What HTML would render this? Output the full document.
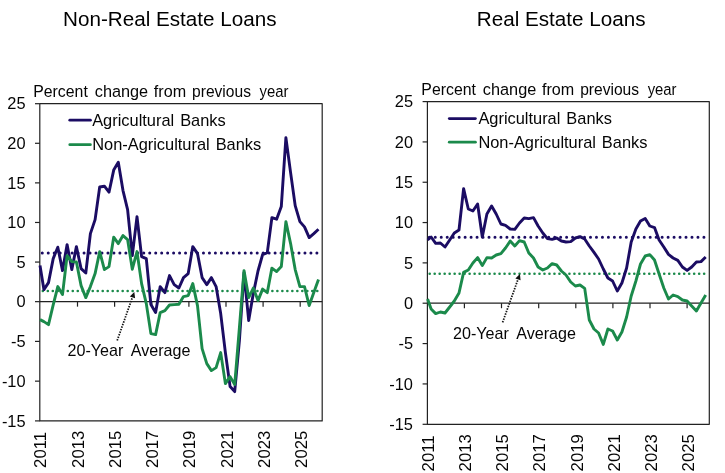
<!DOCTYPE html>
<html><head><meta charset="utf-8"><title>Loan growth charts</title>
<style>
html,body{margin:0;padding:0;background:#fff;}
body{width:725px;height:473px;overflow:hidden;font-family:"Liberation Sans",sans-serif;}
svg{display:block;will-change:transform}
.t{font-family:"Liberation Sans",sans-serif;font-size:16.4px;fill:#050505;}
.h{font-family:"Liberation Sans",sans-serif;font-size:20.65px;fill:#000;}
</style></head><body>
<svg width="725" height="473" viewBox="0 0 725 473">
<rect width="725" height="473" fill="#fff"/>
<text x="169.8" y="26" text-anchor="middle" class="h">Non-Real Estate Loans</text>
<text x="561.2" y="26" text-anchor="middle" class="h">Real Estate Loans</text>
<text x="33.23" y="96.9" class="t" style="font-size:16.3px" textLength="54.58" lengthAdjust="spacingAndGlyphs">Percent</text>
<text x="94.75" y="96.9" class="t" style="font-size:16.3px" textLength="53.39" lengthAdjust="spacingAndGlyphs">change</text>
<text x="153.84" y="96.9" class="t" style="font-size:16.3px" textLength="32.28" lengthAdjust="spacingAndGlyphs">from</text>
<text x="192.06" y="96.9" class="t" style="font-size:16.3px" textLength="58.90" lengthAdjust="spacingAndGlyphs">previous</text>
<text x="259.60" y="96.9" class="t" style="font-size:16.3px" textLength="28.89" lengthAdjust="spacingAndGlyphs">year</text>
<text x="421.33" y="94.6" class="t" style="font-size:16.3px" textLength="54.58" lengthAdjust="spacingAndGlyphs">Percent</text>
<text x="482.85" y="94.6" class="t" style="font-size:16.3px" textLength="53.39" lengthAdjust="spacingAndGlyphs">change</text>
<text x="541.94" y="94.6" class="t" style="font-size:16.3px" textLength="32.28" lengthAdjust="spacingAndGlyphs">from</text>
<text x="580.16" y="94.6" class="t" style="font-size:16.3px" textLength="58.90" lengthAdjust="spacingAndGlyphs">previous</text>
<text x="647.70" y="94.6" class="t" style="font-size:16.3px" textLength="28.89" lengthAdjust="spacingAndGlyphs">year</text>
<path d="M39.8,103.7H322.2V420.9H39.8Z" fill="none" stroke="#222" stroke-width="1.2" stroke-linejoin="round"/>
<path d="M39.8,301.65H322.2" fill="none" stroke="#222" stroke-width="1.2"/>
<path d="M35.0,103.70H39.8" stroke="#222" stroke-width="1.2"/>
<text x="25.6" y="109.3" text-anchor="end" class="t">25</text>
<path d="M35.0,143.29H39.8" stroke="#222" stroke-width="1.2"/>
<text x="25.6" y="148.9" text-anchor="end" class="t">20</text>
<path d="M35.0,182.88H39.8" stroke="#222" stroke-width="1.2"/>
<text x="25.6" y="188.5" text-anchor="end" class="t">15</text>
<path d="M35.0,222.47H39.8" stroke="#222" stroke-width="1.2"/>
<text x="25.6" y="228.1" text-anchor="end" class="t">10</text>
<path d="M35.0,262.06H39.8" stroke="#222" stroke-width="1.2"/>
<text x="25.6" y="267.7" text-anchor="end" class="t">5</text>
<path d="M35.0,301.65H39.8" stroke="#222" stroke-width="1.2"/>
<text x="25.6" y="307.2" text-anchor="end" class="t">0</text>
<path d="M35.0,341.40H39.8" stroke="#222" stroke-width="1.2"/>
<text x="25.6" y="347.0" text-anchor="end" class="t">-5</text>
<path d="M35.0,381.15H39.8" stroke="#222" stroke-width="1.2"/>
<text x="25.6" y="386.8" text-anchor="end" class="t">-10</text>
<path d="M35.0,420.90H39.8" stroke="#222" stroke-width="1.2"/>
<text x="25.6" y="426.5" text-anchor="end" class="t">-15</text>
<path d="M77.5,301.65v5" stroke="#222" stroke-width="1.2"/>
<path d="M114.6,301.65v5" stroke="#222" stroke-width="1.2"/>
<path d="M151.8,301.65v5" stroke="#222" stroke-width="1.2"/>
<path d="M188.9,301.65v5" stroke="#222" stroke-width="1.2"/>
<path d="M226.0,301.65v5" stroke="#222" stroke-width="1.2"/>
<path d="M263.1,301.65v5" stroke="#222" stroke-width="1.2"/>
<path d="M300.2,301.65v5" stroke="#222" stroke-width="1.2"/>
<text transform="translate(46.3,467.9) rotate(-90)" class="t" style="font-size:16.7px">2011</text>
<text transform="translate(83.5,467.9) rotate(-90)" class="t" style="font-size:16.7px">2013</text>
<text transform="translate(120.8,467.9) rotate(-90)" class="t" style="font-size:16.7px">2015</text>
<text transform="translate(158.0,467.9) rotate(-90)" class="t" style="font-size:16.7px">2017</text>
<text transform="translate(195.3,467.9) rotate(-90)" class="t" style="font-size:16.7px">2019</text>
<text transform="translate(232.6,467.9) rotate(-90)" class="t" style="font-size:16.7px">2021</text>
<text transform="translate(269.8,467.9) rotate(-90)" class="t" style="font-size:16.7px">2023</text>
<text transform="translate(307.1,467.9) rotate(-90)" class="t" style="font-size:16.7px">2025</text>
<path d="M42.27,253.0H319.1" stroke="#1b0c63" stroke-width="3.0" stroke-dasharray="0.01 5.96" stroke-linecap="round" fill="none"/>
<path d="M42.83,291.0H319.1" stroke="#1b8a4b" stroke-width="2.6" stroke-dasharray="0.01 4.98" stroke-linecap="round" fill="none"/>
<polyline points="40.0,265.6 43.9,289.6 48.5,282.6 53.2,258.6 57.8,247.2 62.5,270.6 67.1,244.6 71.8,269.6 76.4,246.6 81.1,268.6 85.8,273.0 90.4,233.6 95.1,219.6 99.7,187.0 104.4,186.2 109.0,192.2 113.7,170.1 118.3,162.2 123.0,190.6 127.6,209.6 132.3,255.6 137.0,216.6 141.6,256.6 146.3,258.6 150.9,304.6 155.6,312.6 160.2,286.6 164.9,292.6 169.5,275.6 174.2,284.6 178.9,288.0 183.5,277.6 188.2,273.6 192.8,246.6 197.5,253.6 202.1,277.6 206.8,284.6 211.4,277.6 216.1,286.6 220.7,313.6 225.4,352.6 230.1,386.6 234.7,391.6 239.4,340.6 244.0,272.6 248.7,320.6 253.3,293.6 258.0,271.0 262.6,254.6 267.3,252.6 271.9,217.6 276.6,219.2 281.3,206.6 285.9,137.6 290.6,172.6 295.2,205.6 299.9,221.6 304.5,226.9 309.2,237.6 313.8,233.6 318.5,229.2" fill="none" stroke="#1b0c63" stroke-width="2.9" stroke-linejoin="round" stroke-linecap="butt"/>
<polyline points="40.0,319.6 43.9,321.6 48.5,324.6 53.2,304.9 57.8,286.6 62.5,294.6 67.1,255.6 71.8,261.6 76.4,262.0 81.1,285.6 85.8,297.6 90.4,286.6 95.1,273.6 99.7,251.6 104.4,269.6 109.0,266.6 113.7,237.2 118.3,243.6 123.0,235.6 127.6,239.6 132.3,269.2 137.0,251.6 141.6,283.6 146.3,303.6 150.9,333.6 155.6,334.6 160.2,312.6 164.9,310.6 169.5,305.0 174.2,304.6 178.9,304.2 183.5,296.6 188.2,295.6 192.8,283.6 197.5,305.6 202.1,348.6 206.8,363.6 211.4,370.6 216.1,367.6 220.7,352.6 225.4,383.6 230.1,376.6 234.7,384.6 239.4,327.6 244.0,270.6 248.7,297.6 253.3,288.1 258.0,300.6 262.6,289.1 267.3,292.6 271.9,268.1 276.6,271.6 281.3,266.6 285.9,221.6 290.6,243.6 295.2,269.6 299.9,286.6 304.5,286.6 309.2,305.6 313.8,292.6 318.5,279.6" fill="none" stroke="#1b8a4b" stroke-width="2.9" stroke-linejoin="round" stroke-linecap="butt"/>
<path d="M69.8,120.2H90.4" stroke="#1b0c63" stroke-width="2.8" stroke-linecap="round"/>
<path d="M69.8,144.7H90.4" stroke="#1b8a4b" stroke-width="2.8" stroke-linecap="round"/>
<text x="92.2" y="125.5" class="t" style="word-spacing:1.4px">Agricultural Banks</text>
<text x="92.2" y="150.39999999999998" class="t" style="word-spacing:1.4px">Non-Agricultural Banks</text>
<path d="M117.2,340.5L132.4,297.4" stroke="#111" stroke-width="1.75" stroke-dasharray="1.45 1.25" fill="none"/>
<path d="M134.3,292.1L135.1,298.3L129.8,296.4Z" fill="#111"/>
<text x="67.5" y="356.4" class="t" style="font-size:16.1px;word-spacing:3.85px">20-Year Average</text>
<path d="M427.4,101.6H709.3V424.3H427.4Z" fill="none" stroke="#222" stroke-width="1.2" stroke-linejoin="round"/>
<path d="M427.4,303.2H709.3" fill="none" stroke="#222" stroke-width="1.2"/>
<path d="M422.59999999999997,101.60H427.4" stroke="#222" stroke-width="1.2"/>
<text x="413" y="107.2" text-anchor="end" class="t">25</text>
<path d="M422.59999999999997,141.92H427.4" stroke="#222" stroke-width="1.2"/>
<text x="413" y="147.5" text-anchor="end" class="t">20</text>
<path d="M422.59999999999997,182.24H427.4" stroke="#222" stroke-width="1.2"/>
<text x="413" y="187.8" text-anchor="end" class="t">15</text>
<path d="M422.59999999999997,222.56H427.4" stroke="#222" stroke-width="1.2"/>
<text x="413" y="228.2" text-anchor="end" class="t">10</text>
<path d="M422.59999999999997,262.88H427.4" stroke="#222" stroke-width="1.2"/>
<text x="413" y="268.5" text-anchor="end" class="t">5</text>
<path d="M422.59999999999997,303.20H427.4" stroke="#222" stroke-width="1.2"/>
<text x="413" y="308.8" text-anchor="end" class="t">0</text>
<path d="M422.59999999999997,343.57H427.4" stroke="#222" stroke-width="1.2"/>
<text x="413" y="349.2" text-anchor="end" class="t">-5</text>
<path d="M422.59999999999997,383.93H427.4" stroke="#222" stroke-width="1.2"/>
<text x="413" y="389.5" text-anchor="end" class="t">-10</text>
<path d="M422.59999999999997,424.30H427.4" stroke="#222" stroke-width="1.2"/>
<text x="413" y="429.9" text-anchor="end" class="t">-15</text>
<path d="M464.4,303.2v5" stroke="#222" stroke-width="1.2"/>
<path d="M501.5,303.2v5" stroke="#222" stroke-width="1.2"/>
<path d="M538.7,303.2v5" stroke="#222" stroke-width="1.2"/>
<path d="M575.8,303.2v5" stroke="#222" stroke-width="1.2"/>
<path d="M612.9,303.2v5" stroke="#222" stroke-width="1.2"/>
<path d="M650.0,303.2v5" stroke="#222" stroke-width="1.2"/>
<path d="M687.1,303.2v5" stroke="#222" stroke-width="1.2"/>
<text transform="translate(433.9,471.4) rotate(-90)" class="t" style="font-size:16.7px">2011</text>
<text transform="translate(471.1,471.4) rotate(-90)" class="t" style="font-size:16.7px">2013</text>
<text transform="translate(508.2,471.4) rotate(-90)" class="t" style="font-size:16.7px">2015</text>
<text transform="translate(545.4,471.4) rotate(-90)" class="t" style="font-size:16.7px">2017</text>
<text transform="translate(582.6,471.4) rotate(-90)" class="t" style="font-size:16.7px">2019</text>
<text transform="translate(619.8,471.4) rotate(-90)" class="t" style="font-size:16.7px">2021</text>
<text transform="translate(657.0,471.4) rotate(-90)" class="t" style="font-size:16.7px">2023</text>
<text transform="translate(694.2,471.4) rotate(-90)" class="t" style="font-size:16.7px">2025</text>
<path d="M429.3,237.3H706.3000000000001" stroke="#1b0c63" stroke-width="3.0" stroke-dasharray="0.01 5.96" stroke-linecap="round" fill="none"/>
<path d="M429.7,273.7H706.3000000000001" stroke="#1b8a4b" stroke-width="2.6" stroke-dasharray="0.01 4.98" stroke-linecap="round" fill="none"/>
<polyline points="427.6,240.0 431.1,237.0 435.7,243.4 440.4,243.0 445.0,247.0 449.7,240.0 454.3,233.0 459.0,230.0 463.6,188.6 468.3,209.0 472.9,211.0 477.6,204.0 482.3,237.0 486.9,214.0 491.6,206.0 496.2,214.0 500.9,224.0 505.5,225.4 510.2,229.0 514.8,229.4 519.5,223.0 524.2,218.0 528.8,218.6 533.5,217.6 538.1,226.0 542.8,233.0 547.4,238.6 552.1,239.4 556.7,238.0 561.4,241.0 566.0,242.0 570.7,241.6 575.4,238.0 580.0,236.6 584.7,239.0 589.3,246.0 594.0,252.4 598.6,259.0 603.3,269.0 607.9,278.0 612.6,281.0 617.3,291.0 621.9,283.0 626.6,268.0 631.2,242.0 635.9,229.0 640.5,221.0 645.2,218.4 649.8,226.0 654.5,227.6 659.1,240.0 663.8,247.0 668.5,254.4 673.1,258.0 677.8,260.4 682.4,267.0 687.1,270.4 691.7,267.0 696.4,262.0 701.0,261.6 705.7,257.0" fill="none" stroke="#1b0c63" stroke-width="2.9" stroke-linejoin="round" stroke-linecap="butt"/>
<polyline points="427.6,299.0 431.1,309.0 435.7,313.6 440.4,312.0 445.0,313.0 449.7,307.0 454.3,301.0 459.0,293.0 463.6,272.4 468.3,270.0 472.9,263.0 477.6,257.6 482.3,265.6 486.9,257.6 491.6,258.0 496.2,255.0 500.9,253.6 505.5,248.0 510.2,241.0 514.8,246.0 519.5,240.6 524.2,242.0 528.8,253.0 533.5,258.0 538.1,267.0 542.8,270.0 547.4,268.0 552.1,263.6 556.7,265.0 561.4,271.0 566.0,275.0 570.7,282.0 575.4,286.0 580.0,285.0 584.7,288.4 589.3,320.0 594.0,329.0 598.6,333.0 603.3,344.4 607.9,329.0 612.6,331.0 617.3,340.0 621.9,332.0 626.6,317.0 631.2,296.0 635.9,281.0 640.5,264.0 645.2,256.0 649.8,254.6 654.5,260.0 659.1,274.0 663.8,288.0 668.5,299.0 673.1,295.0 677.8,296.6 682.4,300.0 687.1,301.0 691.7,306.0 696.4,311.0 701.0,303.0 705.7,295.0" fill="none" stroke="#1b8a4b" stroke-width="2.9" stroke-linejoin="round" stroke-linecap="butt"/>
<path d="M449.3,118.6H475.4" stroke="#1b0c63" stroke-width="2.8" stroke-linecap="round"/>
<path d="M449.3,142.2H475.4" stroke="#1b8a4b" stroke-width="2.8" stroke-linecap="round"/>
<text x="478.4" y="123.89999999999999" class="t" style="word-spacing:1.4px">Agricultural Banks</text>
<text x="478.4" y="147.89999999999998" class="t" style="word-spacing:1.4px">Non-Agricultural Banks</text>
<path d="M502.6,322.4L518.0,279.4" stroke="#111" stroke-width="1.75" stroke-dasharray="1.45 1.25" fill="none"/>
<path d="M519.9,274.1L520.6,280.3L515.4,278.4Z" fill="#111"/>
<text x="453.1" y="338.8" class="t" style="font-size:16.1px;word-spacing:3.85px">20-Year Average</text>
</svg>
</body></html>
